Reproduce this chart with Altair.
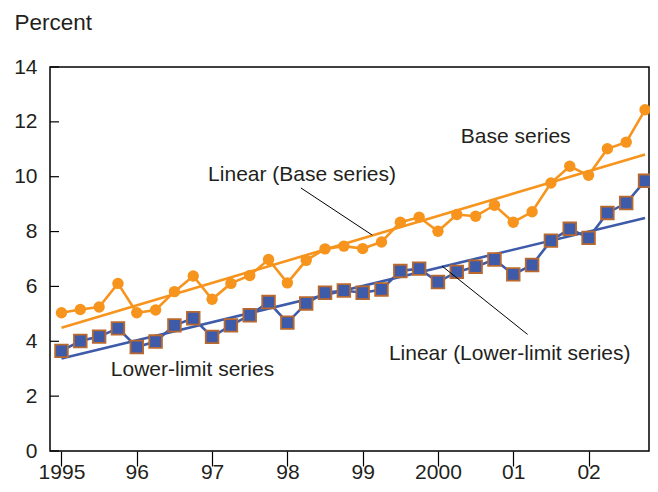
import altair as alt
import pandas as pd

# ---- data ----
quarters = list(range(32))  # 1995Q1 .. 2002Q4
base_series = [5.04, 5.16, 5.25, 6.11, 5.04, 5.14, 5.81, 6.38,
               5.53, 6.11, 6.40, 6.98, 6.13, 6.95, 7.37, 7.47,
               7.38, 7.62, 8.34, 8.52, 8.01, 8.62, 8.56, 8.96,
               8.34, 8.72, 9.77, 10.38, 10.05, 11.02, 11.26, 12.44]
lower_series = [3.65, 4.01, 4.17, 4.47, 3.79, 3.99, 4.58, 4.84,
                4.16, 4.58, 4.95, 5.43, 4.68, 5.38, 5.77, 5.85,
                5.77, 5.89, 6.56, 6.65, 6.16, 6.53, 6.72, 6.98,
                6.44, 6.78, 7.67, 8.10, 7.77, 8.68, 9.04, 9.85]
year_labels = ["1995", "96", "97", "98", "99", "2000", "01", "02"]
y_ticks = [0, 2, 4, 6, 8, 10, 12, 14]

# annotation texts, positioned in data units (quarter index, percent)
ann_text = ["Base series", "Linear (Base series)",
            "Linear (Lower-limit series)", "Lower-limit series"]
ann_q = [24.13, 12.78, 23.81, 6.96]
ann_v = [11.45, 10.07, 3.53, 2.95]
lead_q = [12.72, 20.22]
lead_v = [9.59, 6.74]
lead_q2 = [16.51, 24.76]
lead_v2 = [7.87, 4.25]

ORANGE = "#F7941D"
BLUE = "#3E5BA9"
SQ_EDGE = "#B9692E"
FONT = "Liberation Sans"
TXT = "#231F20"

df = pd.DataFrame({
    "q": quarters * 2,
    "value": base_series + lower_series,
    "series": ["Base series"] * 32 + ["Lower-limit series"] * 32,
})
ann = pd.DataFrame({"text": ann_text, "q": ann_q, "v": ann_v})
leads = pd.DataFrame({"q": lead_q, "v": lead_v, "q2": lead_q2, "v2": lead_v2})
yt = pd.DataFrame({"t": y_ticks})

label_arr = "[" + ",".join("'" + s + "'" for s in year_labels) + "]"
label_expr = "datum.value % 4 == 0 ? " + label_arr + "[floor(datum.value / 4)] : ''"

xscale = alt.Scale(domain=[-0.61, 31.21], nice=False, zero=False)
yscale = alt.Scale(domain=[0, 14], nice=False, zero=True)
cscale = alt.Scale(domain=["Base series", "Lower-limit series"], range=[ORANGE, BLUE])

x_axis = alt.Axis(
    values=quarters, title=None, grid=False, domain=False,
    labelExpr=label_expr,
    tickSize={"condition": {"test": "datum.value % 4 == 0", "value": 15}, "value": 9},
    tickColor="#000000", tickWidth=1.2,
    labelFont=FONT, labelFontSize=21, labelColor=TXT, labelPadding=-4.5,
    labelAngle=0, labelFlush=False, labelOverlap=False,
)
y_axis = alt.Axis(
    values=y_ticks, grid=False, domain=False, ticks=False,
    labelFont=FONT, labelFontSize=21, labelColor=TXT, labelPadding=13,
    title="Percent", titleAngle=0, titleAlign="left", titleBaseline="alphabetic",
    titleX=-36, titleY=-38, titleFont=FONT, titleFontSize=22.5,
    titleFontWeight="normal", titleColor=TXT,
)

X = alt.X("q:Q", scale=xscale, axis=x_axis)
Y = alt.Y("value:Q", scale=yscale, axis=y_axis)

trend = alt.Chart(df).transform_regression(
    "q", "value", groupby=["series"]
).mark_line(strokeWidth=2.6).encode(
    x=alt.X("q:Q", scale=xscale, axis=x_axis),
    y=alt.Y("value:Q", scale=yscale, axis=y_axis),
    color=alt.Color("series:N", scale=cscale, legend=None),
)

lines = alt.Chart(df).mark_line(strokeWidth=2.6).encode(
    x=X, y=Y, color=alt.Color("series:N", scale=cscale, legend=None),
    detail="series:N",
)

base_pts = alt.Chart(df).transform_filter(
    alt.datum.series == "Base series"
).mark_point(shape="circle", filled=True, size=130, opacity=1, color=ORANGE).encode(x=X, y=Y)

lower_pts = alt.Chart(df).transform_filter(
    alt.datum.series == "Lower-limit series"
).mark_point(shape="square", filled=True, size=160, opacity=1, fill=BLUE,
             stroke=SQ_EDGE, strokeWidth=1.8).encode(x=X, y=Y)

leader = alt.Chart(leads).mark_rule(color="#000000", strokeWidth=1).encode(
    x=alt.X("q:Q", scale=xscale), y=alt.Y("v:Q", scale=yscale),
    x2="q2:Q", y2="v2:Q",
)

texts = alt.Chart(ann).mark_text(
    font=FONT, fontSize=21, color=TXT, align="center", baseline="middle"
).encode(x=alt.X("q:Q", scale=xscale), y=alt.Y("v:Q", scale=yscale), text="text:N")

yticks = alt.Chart(yt).mark_rule(color="#000000", strokeWidth=1.2).encode(
    y=alt.Y("t:Q", scale=yscale), x=alt.value(0), x2=alt.value(9),
)

chart = alt.layer(
    yticks, trend, lines, base_pts, lower_pts, leader, texts
).properties(
    width=599, height=384,
    background="#ffffff",
    autosize=alt.AutoSizeParams(type="none"),
    padding={"left": 42, "top": 59, "right": 1, "bottom": 33},
).configure_view(
    stroke="#000000", strokeWidth=1.5
)

chart.save("out.html", embed_options={"renderer": "svg", "actions": False})
